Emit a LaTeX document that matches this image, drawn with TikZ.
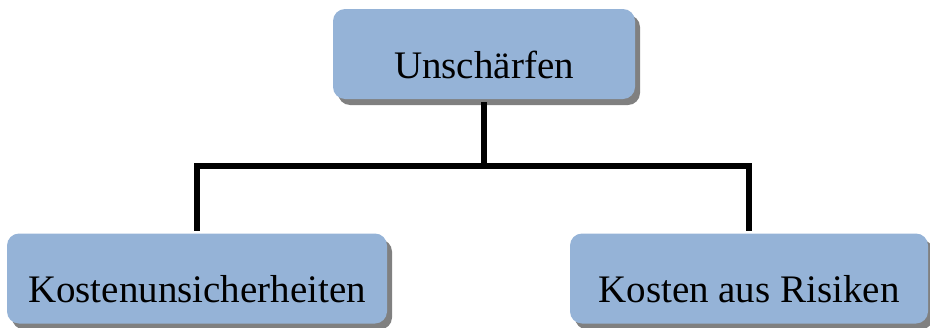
\documentclass[tikz,border=0pt]{standalone}
\usepackage{fontspec}
\setmainfont{Liberation Serif}
\usepackage{tikz}
\usetikzlibrary{positioning}
\usetikzlibrary{shadows}
\usepackage{xcolor}
\definecolor{boxblue}{RGB}{149,179,215}

\begin{document}
\begin{tikzpicture}[x=1pt, y=-1pt, line width=6pt, main/.style = {fill=boxblue, draw=none, rounded corners=12pt, inner sep=0pt, minimum height=90pt, text height=48pt, text depth=0pt, font=\fontsize{39}{47}\selectfont, drop shadow={shadow xshift=5pt, shadow yshift=-6pt, fill=gray, opacity=1}}] 
\useasboundingbox (0,0) rectangle (930,327);
\node[main, minimum width=302pt] (U) at (484,54) {Unschärfen}; 
\node[main, minimum width=380pt] (K) at (197,278.5) {Kostenunsicherheiten}; 
\node[main, minimum width=358pt] (R) at (749,278.5) {Kosten aus Risiken}; 
\coordinate (J) at (484,166);
\draw (U) -- (J); 
\draw (K.north) |- (J) -| (R.north);
\end{tikzpicture}
\end{document}
